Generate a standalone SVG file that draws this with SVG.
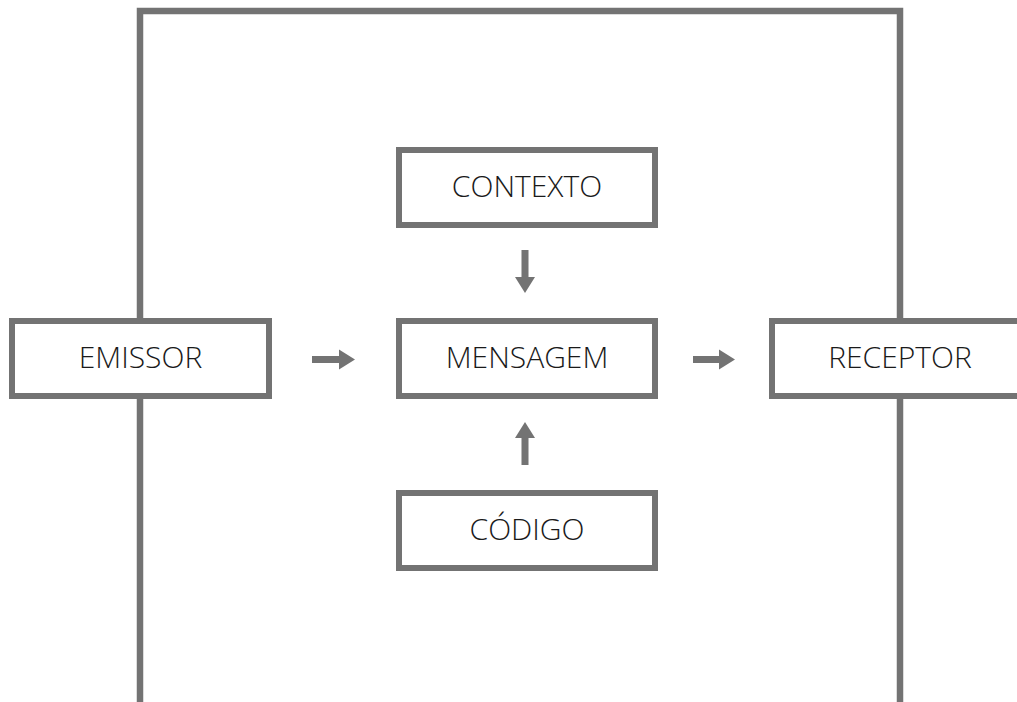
<svg xmlns="http://www.w3.org/2000/svg" width="1017" height="702" viewBox="0 0 1017 702">
<style>
.box{fill:#fff;stroke:#737373;stroke-width:6}
.frame{fill:none;stroke:#737373;stroke-width:6.5}
.lbl{font-family:"Open Sans","Noto Sans",sans-serif;font-weight:300;font-size:30px;fill:#1a1a1a;text-anchor:middle}
.arr{fill:#737373}
</style>
<rect width="1017" height="702" fill="#fff"/>
<g id="frame">
<path class="frame" d="M140,702 V11 H900 V702"/>
</g>
<g id="connectors">
<path class="arr" d="M312,356 H339 V349.5 L355,359.5 L339,369.5 V363 H312 Z"/>
<path class="arr" d="M693,356 H719 V349.5 L735,359.5 L719,369.5 V363 H693 Z"/>
<path class="arr" d="M521.5,250 V277 H515 L525,293 L535,277 H528.5 V250 Z"/>
<path class="arr" d="M521.5,465 V438 H515 L525,422 L535,438 H528.5 V465 Z"/>
</g>
<g id="emissor">
<rect class="box" x="12" y="321" width="257" height="75"/>
<text class="lbl" x="140.5" y="368">EMISSOR</text>
</g>
<g id="mensagem">
<rect class="box" x="399" y="321" width="256" height="75"/>
<text class="lbl" x="527" y="368">MENSAGEM</text>
</g>
<g id="receptor">
<rect class="box" x="772" y="321" width="256" height="75"/>
<text class="lbl" x="900" y="368">RECEPTOR</text>
</g>
<g id="contexto">
<rect class="box" x="399" y="150" width="256" height="75"/>
<text class="lbl" x="527" y="197">CONTEXTO</text>
</g>
<g id="codigo">
<rect class="box" x="399" y="493" width="256" height="75"/>
<text class="lbl" x="527" y="540">CÓDIGO</text>
</g>
</svg>
